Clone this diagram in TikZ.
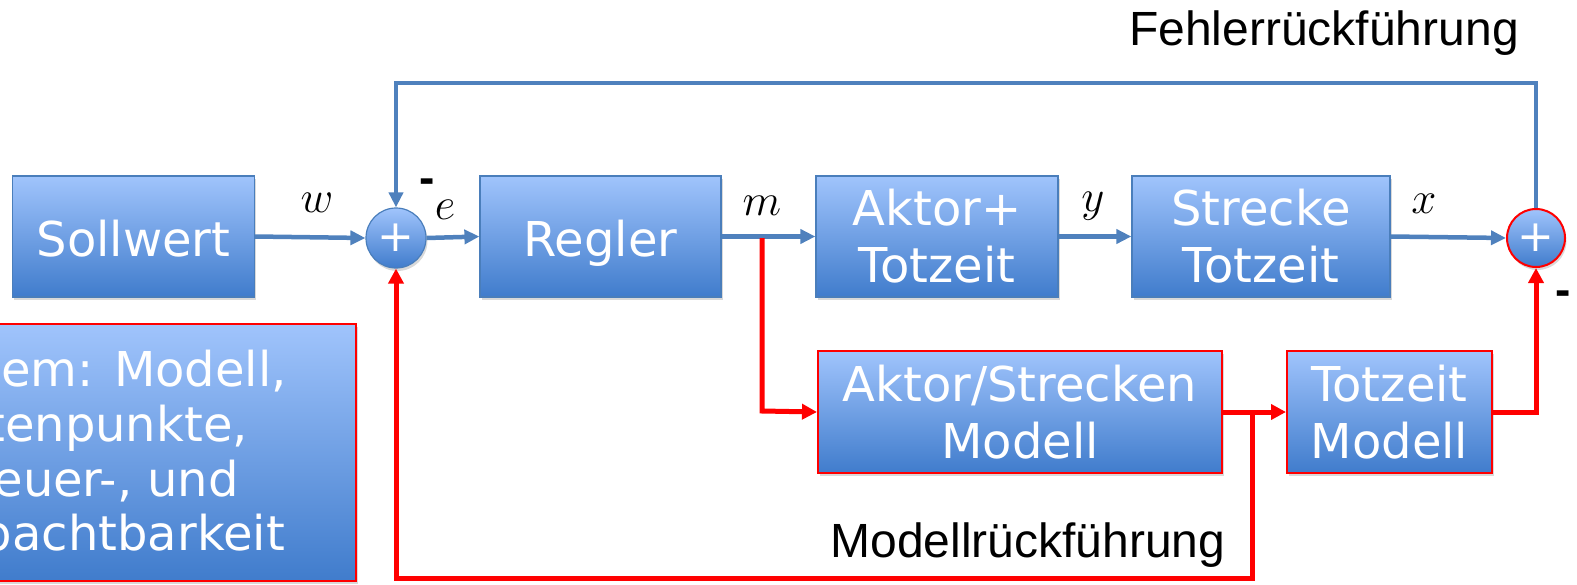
\documentclass[tikz,border=0pt]{standalone}
\usepackage{fix-cm}
\usepackage{fontspec}
\setmainfont{DejaVu Sans}
\newfontfamily\labelfont{Liberation Sans}
\usetikzlibrary{arrows.meta,shadows,calc}

\definecolor{lineblue}{RGB}{79,129,189}
\definecolor{boxtop}{RGB}{160,196,252}
\definecolor{boxbot}{RGB}{64,124,204}
\definecolor{boxedge}{RGB}{74,126,187}
\definecolor{fbred}{RGB}{255,0,0}

\tikzset{
  x=1pt, y=-1pt,
  softshadow/.style={drop shadow={opacity=0.3, shadow xshift=1.5pt, shadow yshift=-3pt}},
  blockfill/.style={top color=boxtop, bottom color=boxbot, text=white,
    font=\fontsize{48}{57}\selectfont, align=center, inner sep=0pt, softshadow},
  block/.style={blockfill, draw=boxedge, line width=1.2pt},
  oneline/.style={text height=39pt, text depth=0pt},
  modelblock/.style={blockfill, draw=fbred, line width=2pt},
  sumnode/.style={circle, blockfill, draw=boxedge, line width=1.2pt,
    minimum size=60pt, font=\fontsize{44}{44}\selectfont},
  bluearrow/.style={draw=lineblue, line width=4.5pt,
    -{Triangle[length=15pt,width=14pt]}},
  redarrow/.style={draw=fbred, line width=5pt,
    -{Triangle[length=15pt,width=15pt]}},
  sig/.style={anchor=base, inner sep=0pt, font=\fontsize{45}{50}\selectfont},
  minus/.style={anchor=base, inner sep=0pt, font=\labelfont\bfseries\fontsize{46}{50}\selectfont},
  pathlabel/.style={font=\labelfont\fontsize{48}{57}\selectfont},
  notetext/.style={text=white, font=\fontsize{48}{57}\selectfont, anchor=base east, inner sep=0pt},
}

\begin{document}
\begin{tikzpicture}
\useasboundingbox (0,0) rectangle (1577,584);
\begin{scope}
\clip (0,0) rectangle (1577,584);

% blocks of the forward path
\node[block, oneline, minimum width=242pt, minimum height=121pt] (soll) at (133.5,236.5) {Sollwert};
\node[sumnode] (s1) at (396,238) {+};
\node[block, oneline, minimum width=241pt, minimum height=121pt] (regler) at (600.5,236.5) {Regler};
\node[block, minimum width=242pt, minimum height=121pt] (aktor) at (937,236.5) {Aktor+\\Totzeit};
\node[block, minimum width=258pt, minimum height=121pt] (strecke) at (1261,236.5) {Strecke\\Totzeit};
\node[sumnode, draw=fbred, line width=2pt, minimum size=58pt] (s2) at (1536,238) {+};

% model branch
\node[modelblock, minimum width=404pt, minimum height=122pt] (asmod) at (1020,412) {Aktor/Strecken\\Modell};
\node[modelblock, minimum width=205pt, minimum height=122pt] (tzmod) at (1389.5,412) {Totzeit\\Modell};

% note box, cut off at the left edge
\node[modelblock, minimum width=380pt, minimum height=257pt] (note) at (166,452.5) {};
\node[notetext] (n1) at (287,386) {Problem: Modell,};
\node[notetext] (n2) at (248,441) {Datenpunkte,};
\node[notetext] (n3) at (239,496) {Steuer-, und};
\node[notetext] (n4) at (285,550) {Beobachtbarkeit};

% forward signals
\draw[bluearrow] (soll.east) -- (s1.west);
\draw[bluearrow] (s1.east) -- (regler.west);
\draw[bluearrow] (regler.east) -- (aktor.west);
\draw[bluearrow] (aktor.east) -- (strecke.west);
\draw[bluearrow] (strecke.east) -- (s2.west);

% error feedback
\coordinate (fbR) at (1536,83);
\coordinate (fbL) at (396,83);
\draw[bluearrow] (s2.north) -- (fbR) -- (fbL) -- (s1.north);

% model feedback
\coordinate (mtap) at (762,238);
\coordinate (mcorner) at (762,411);
\draw[redarrow] (mtap) -- (mcorner) -- (asmod.west);
\draw[redarrow] (asmod.east) -- (tzmod.west);
\draw[redarrow] (tzmod.east) -| (s2.south);
\coordinate (rtap) at (1252,412);
\coordinate (rbot) at (1252,578);
\coordinate (lbot) at (396,578);
\draw[redarrow] (rtap) -- (rbot) -- (lbot) -- (s1.south);

% signal names
\node[sig] (lw) at (317,212) {$w$};
\node[sig] (le) at (445,219) {$e$};
\node[sig] (lm) at (762,215) {$m$};
\node[sig] (ly) at (1093,211) {$y$};
\node[sig] (lx) at (1424,213) {$x$};
\node[minus] (m1) at (427.5,193.5) {-};
\node[minus] (m2) at (1563,305) {-};

% path labels
\node[pathlabel] (fehler) at (1324,33) {Fehlerrückführung};
\node[pathlabel] (modell) at (1028,545) {Modellrückführung};
\end{scope}
\end{tikzpicture}
\end{document}
